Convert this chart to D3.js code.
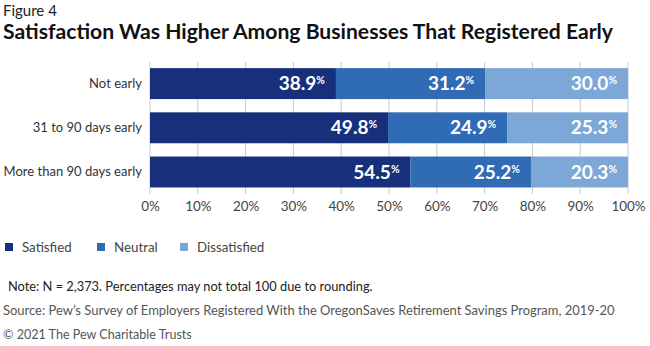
<!DOCTYPE html>
<html>
<head>
<meta charset="utf-8">
<script src="https://cdn.jsdelivr.net/npm/d3@7"></script>
<style>
  body { margin: 0; background: #fff; }
  text { font-family: Lato, "Noto Sans", sans-serif; }
</style>
</head>
<body>
<div id="chart"></div>
<script>
const width = 650;
const height = 346;

// data
const categories = ["Not early", "31 to 90 days early", "More than 90 days early"];
const seriesNames = ["Satisfied", "Neutral", "Dissatisfied"];
const satisfied = [38.9, 49.8, 54.5];
const neutral = [31.2, 24.9, 25.2];
const dissatisfied = [30.0, 25.3, 20.3];
const tickValues = [0, 10, 20, 30, 40, 50, 60, 70, 80, 90, 100];
const colors = ["#18307c", "#2f6cb5", "#7ca7d7"];

const rows = categories.map((c, i) => ({
  category: c,
  Satisfied: satisfied[i],
  Neutral: neutral[i],
  Dissatisfied: dissatisfied[i]
}));

// Lato is wider than the original's font, so squeeze a bit
function squeeze(sel, k) {
  sel.each(function () {
    const w = this.getComputedTextLength();
    d3.select(this).attr("textLength", w * k).attr("lengthAdjust", "spacingAndGlyphs");
  });
}

const svg = d3.select("#chart").append("svg")
  .attr("width", width)
  .attr("height", height);

// titles
svg.append("text")
  .attr("x", 3).attr("y", 16)
  .attr("font-size", 15).attr("fill", "#222")
  .text("Figure 4");
svg.append("text")
  .attr("x", 3).attr("y", 39)
  .attr("font-size", 21).attr("font-weight", 700).attr("fill", "#111")
  .attr("textLength", 610).attr("lengthAdjust", "spacingAndGlyphs")
  .text("Satisfaction Was Higher Among Businesses That Registered Early");

// scales
const x = d3.scaleLinear().domain([0, 100]).range([150, 628]).clamp(true);
const y = d3.scaleBand().domain(categories).range([61.5, 194.1])
  .paddingInner(0.3).paddingOuter(0.15);
const color = d3.scaleOrdinal().domain(seriesNames).range(colors);

// gridlines
svg.append("g").selectAll("line")
  .data(tickValues)
  .join("line")
  .attr("x1", d => x(d)).attr("x2", d => x(d))
  .attr("y1", 62).attr("y2", 194)
  .attr("stroke", "#c9c9c9").attr("stroke-width", 1);

// x axis labels
const xAxis = svg.append("g")
  .attr("transform", "translate(0,194)")
  .call(d3.axisBottom(x).tickValues(tickValues).tickSize(0).tickPadding(7).tickFormat(d => d + "%"));
xAxis.select(".domain").remove();
xAxis.selectAll("text")
  .attr("font-family", "Lato, sans-serif")
  .attr("font-size", 14).attr("fill", "#444")
  .call(squeeze, 0.96);

// y axis labels
const yAxis = svg.append("g")
  .attr("transform", "translate(142,0)")
  .call(d3.axisLeft(y).tickSize(0).tickPadding(0));
yAxis.select(".domain").remove();
yAxis.selectAll("text")
  .attr("font-family", "Lato, sans-serif")
  .attr("font-size", 14).attr("fill", "#333")
  .call(squeeze, 0.93);

// stacked bars
const stacked = d3.stack().keys(seriesNames)(rows);

const layer = svg.append("g").selectAll("g")
  .data(stacked)
  .join("g")
  .attr("fill", d => color(d.key));

layer.selectAll("rect")
  .data(d => d)
  .join("rect")
  .attr("x", d => x(d[0]))
  .attr("y", d => y(d.data.category))
  .attr("width", d => x(d[1]) - x(d[0]))
  .attr("height", y.bandwidth());

// value labels
layer.selectAll("text")
  .data(d => d.map(v => ({ v, key: d.key })))
  .join("text")
  .attr("x", d => x(d.v[1]) - 11)
  .attr("y", d => y(d.v.data.category) + y.bandwidth() / 2 + 6.5)
  .attr("text-anchor", "end")
  .attr("fill", "#fff")
  .attr("font-weight", 700)
  .attr("font-size", 19)
  .each(function (d) {
    const t = d3.select(this);
    t.append("tspan").text(d.v.data[d.key].toFixed(1));
    t.append("tspan").attr("font-size", 10.5).attr("dy", -6).text("%");
  });

// legend
const legend = svg.append("g").selectAll("g")
  .data(seriesNames)
  .join("g")
  .attr("transform", (d, i) => `translate(${[5, 97, 180][i]},243)`);
legend.append("rect")
  .attr("width", 8).attr("height", 8)
  .attr("fill", d => color(d));
legend.append("text")
  .attr("x", 17).attr("y", 8.5)
  .attr("font-size", 14).attr("fill", "#444")
  .text(d => d)
  .call(squeeze, 0.95);

// notes
svg.append("text")
  .attr("x", 8).attr("y", 291)
  .attr("font-size", 13.5).attr("fill", "#222")
  .text("Note: N = 2,373. Percentages may not total 100 due to rounding.")
  .call(squeeze, 0.95);
svg.append("text")
  .attr("x", 3).attr("y", 315)
  .attr("font-size", 13.5).attr("fill", "#555")
  .text("Source: Pew\u2019s Survey of Employers Registered With the OregonSaves Retirement Savings Program, 2019-20")
  .call(squeeze, 0.96);
svg.append("text")
  .attr("x", 3).attr("y", 339)
  .attr("font-size", 13.5).attr("fill", "#555")
  .text("\u00A9 2021 The Pew Charitable Trusts")
  .call(squeeze, 0.93);
</script>
</body>
</html>
